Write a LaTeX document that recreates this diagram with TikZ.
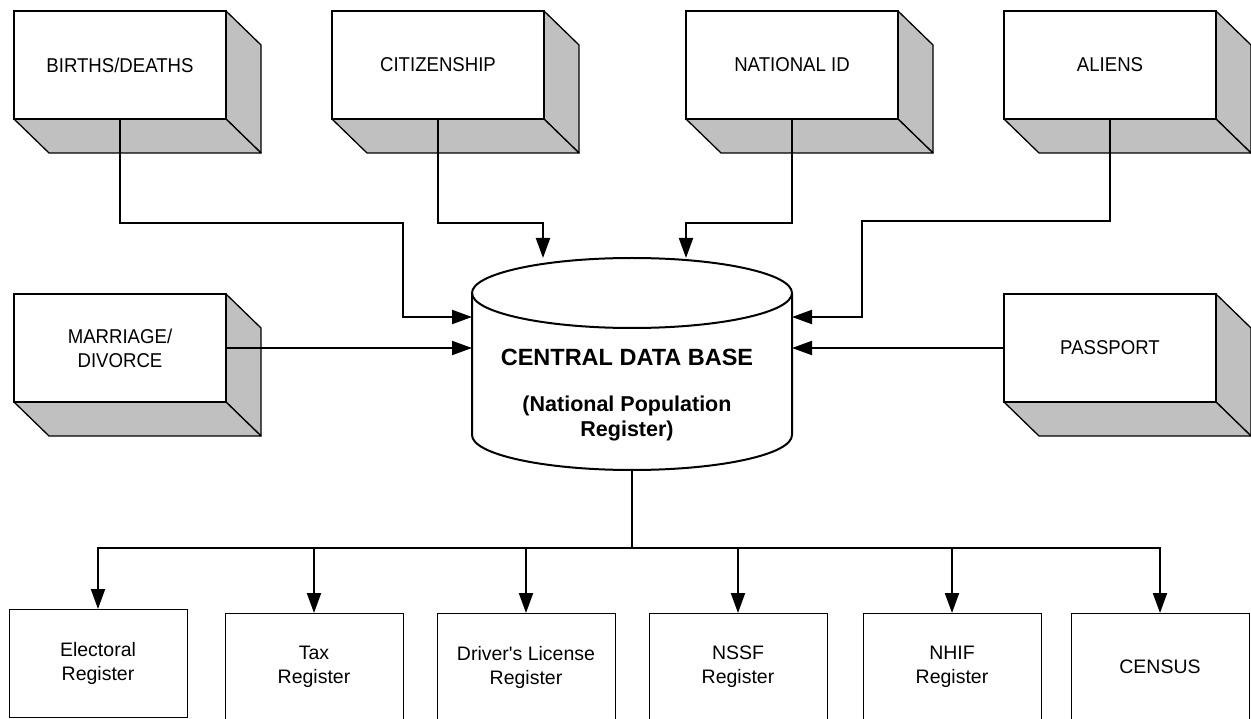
\documentclass[tikz,border=0pt]{standalone}
\usepackage{fontspec}
\setmainfont{Liberation Sans}
\newfontfamily\toplab[FakeStretch=0.93]{Liberation Sans}
\usetikzlibrary{arrows.meta}
\definecolor{boxgray}{HTML}{C0C0C0}
\pgfdeclarelayer{bg}
\pgfsetlayers{bg,main}
\begin{document}
\begin{tikzpicture}[x=1pt,y=-1pt,
  line width=2pt,
  front/.style={draw, fill=white, minimum width=212pt, minimum height=108pt,
    inner sep=0pt, outer sep=0pt, align=center,
    font=\toplab\fontsize{20}{24}\selectfont},
  sideface/.style={draw, fill=boxgray, line width=1.3pt, line join=round},
  regbox/.style={draw, fill=white, minimum width=178pt, minimum height=108pt,
    inner sep=0pt, outer sep=0pt, align=center,
    font=\fontsize{19.5}{24}\selectfont},
  conn/.style={draw, line width=2pt},
  arr/.style={conn, -{Triangle[length=20pt,width=14pt]}},
]
\useasboundingbox (0,0) rectangle (1251,719);
\clip (0,0) rectangle (1251,719);

% source boxes (front faces)
\node[front] (b1) at (120,65) {BIRTHS/DEATHS};
\node[front] (b2) at (438,65) {CITIZENSHIP};
\node[front] (b3) at (792,65) {NATIONAL ID};
\node[front] (b4) at (1110,65) {ALIENS};
\node[front] (b5) at (120,348) {MARRIAGE/\\DIVORCE};
\node[front] (b6) at (1110,348) {PASSPORT};

% 3D extrusions
\begin{pgfonlayer}{bg}
\foreach \n in {b1,b2,b3,b4,b5,b6}{
  \filldraw[sideface] (\n.north east) -- ++(35,34) -- ++(0,108) -- (\n.south east) -- cycle;
  \filldraw[sideface] (\n.south west) -- (\n.south east) -- ++(35,34) -- ++(-212,0) -- cycle;
}
\end{pgfonlayer}

% central data base cylinder
\node[minimum width=320pt, minimum height=212pt, inner sep=0pt, outer sep=0pt] (db) at (632,364) {};
\draw[conn] ([yshift=-35pt]db.north west) -- ([yshift=35pt]db.south west)
  arc[start angle=180, end angle=0, x radius=160, y radius=35]
  -- ([yshift=-35pt]db.north east);
\draw[conn] ([yshift=-35pt]db.north) ellipse[x radius=160, y radius=35];
\node[font=\bfseries\fontsize{23.5}{28}\selectfont] (t1) at (627,357) {CENTRAL DATA BASE};
\node[font=\bfseries\fontsize{21.5}{25}\selectfont, align=center] (t2) at (627,418) {(National Population\\Register)};

% connectors into the data base
\draw[arr] (b1.south) |- (403,223) |- (db.west |- 0,317);
\draw[arr] (b2.south) |- (543,223) -- (543,223 |- db.north);
\draw[arr] (b3.south) |- (686,223) -- (686,223 |- db.north);
\draw[arr] (b4.south) |- (862,221) |- (db.east |- 0,317);
\draw[arr] (b5.east) -- (db.west |- b5.east);
\draw[arr] (b6.west) -- (db.east |- b6.west);

% registers
\node[regbox] (r1) at (98,663) {Electoral\\Register};
\node[regbox] (r2) at (314,667) {Tax\\Register};
\node[regbox] (r3) at (526,667) {Driver\textquotesingle s License\\Register};
\node[regbox] (r4) at (738,667) {NSSF\\Register};
\node[regbox] (r5) at (952,667) {NHIF\\Register};
\node[regbox] (r6) at (1160,667) {CENSUS};

\coordinate (bus) at (632,548);
\draw[conn] (db.south) -- (bus);
\foreach \n in {r1,r2,r3,r4,r5,r6}{
  \draw[arr] (bus) -| (\n.north);
}
\end{tikzpicture}
\end{document}
